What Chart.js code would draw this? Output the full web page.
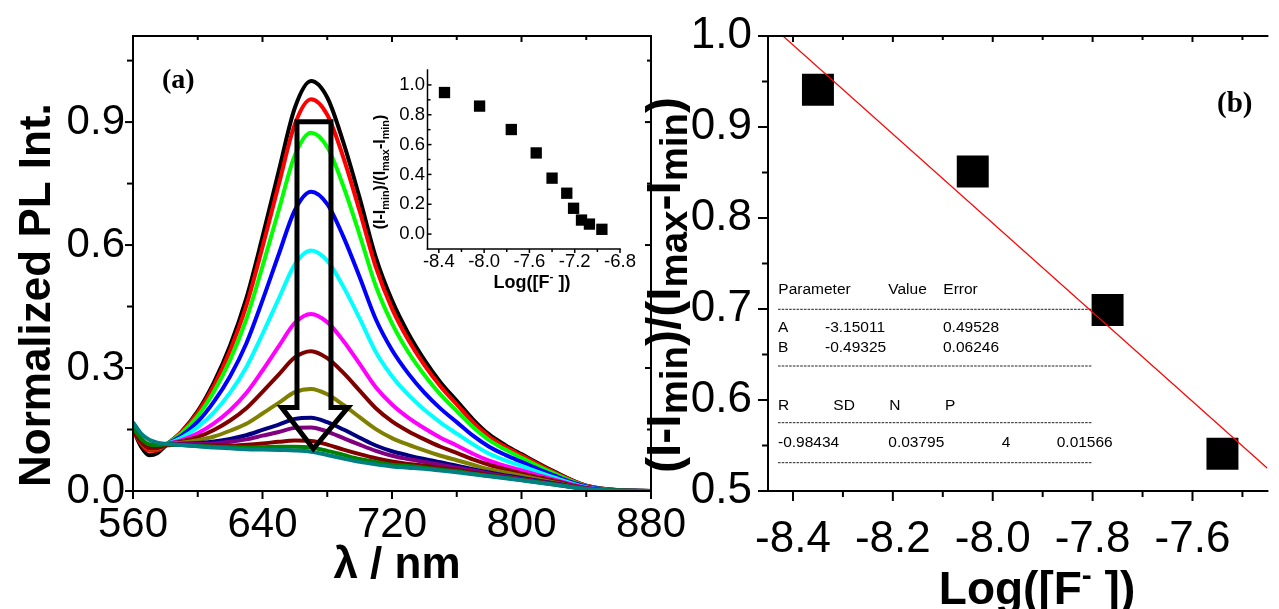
<!DOCTYPE html>
<html>
<head>
<meta charset="utf-8">
<script src="https://cdn.jsdelivr.net/npm/chart.js@4/dist/chart.umd.min.js"></script>
<style>
  html, body { margin: 0; padding: 0; background: #fff; overflow: hidden; width: 1279px; height: 609px; }
  canvas { position: absolute; }
</style>
</head>
<body>
<canvas id="pl" width="700" height="609" style="left:0;top:0"></canvas>
<canvas id="fitb" width="690" height="609" style="left:600px;top:0"></canvas>
<canvas id="inset" width="290" height="250" style="left:360px;top:50px"></canvas>
<script>
const SANS = '"Liberation Sans", Arial, sans-serif';
const SERIF = '"Liberation Serif", "Times New Roman", serif';

// panel (a): normalized PL spectra, one array per titration step
const wavelength = [560, 565, 570, 575, 580, 590, 600, 610, 620, 630, 640, 650, 660, 670, 680, 690, 700, 710, 720, 730, 740, 750, 760, 770, 780, 790, 800, 820, 840, 860, 880];
const plBlack   = [0.150, 0.108, 0.087, 0.092, 0.110, 0.145, 0.195, 0.265, 0.355, 0.470, 0.620, 0.780, 0.935, 1.000, 0.960, 0.850, 0.715, 0.570, 0.465, 0.385, 0.320, 0.265, 0.220, 0.175, 0.138, 0.112, 0.090, 0.048, 0.013, 0.002, 0.000];
const plRed     = [0.148, 0.115, 0.098, 0.099, 0.112, 0.144, 0.191, 0.257, 0.343, 0.452, 0.595, 0.747, 0.895, 0.956, 0.918, 0.813, 0.683, 0.546, 0.445, 0.369, 0.307, 0.255, 0.211, 0.168, 0.133, 0.108, 0.087, 0.046, 0.013, 0.002, 0.000];
const plLime    = [0.150, 0.120, 0.104, 0.104, 0.113, 0.141, 0.183, 0.243, 0.320, 0.419, 0.548, 0.685, 0.819, 0.874, 0.839, 0.743, 0.625, 0.500, 0.409, 0.339, 0.283, 0.235, 0.195, 0.156, 0.124, 0.101, 0.081, 0.043, 0.012, 0.002, 0.000];
const plBlue    = [0.151, 0.122, 0.107, 0.106, 0.113, 0.135, 0.169, 0.218, 0.280, 0.360, 0.465, 0.577, 0.685, 0.730, 0.700, 0.620, 0.522, 0.419, 0.344, 0.287, 0.240, 0.201, 0.168, 0.135, 0.108, 0.088, 0.071, 0.038, 0.011, 0.002, 0.000];
const plCyan    = [0.152, 0.124, 0.110, 0.108, 0.114, 0.130, 0.156, 0.192, 0.240, 0.302, 0.383, 0.469, 0.553, 0.587, 0.562, 0.498, 0.421, 0.339, 0.280, 0.235, 0.198, 0.167, 0.140, 0.114, 0.091, 0.075, 0.061, 0.033, 0.009, 0.001, 0.000];
const plMagenta = [0.152, 0.125, 0.110, 0.109, 0.114, 0.124, 0.141, 0.165, 0.197, 0.239, 0.294, 0.353, 0.410, 0.432, 0.412, 0.366, 0.310, 0.253, 0.211, 0.179, 0.153, 0.130, 0.111, 0.091, 0.074, 0.061, 0.050, 0.028, 0.008, 0.001, 0.000];
const plWine    = [0.152, 0.125, 0.111, 0.109, 0.114, 0.121, 0.132, 0.149, 0.172, 0.202, 0.242, 0.284, 0.326, 0.341, 0.324, 0.288, 0.245, 0.202, 0.170, 0.146, 0.126, 0.108, 0.093, 0.077, 0.064, 0.053, 0.043, 0.025, 0.007, 0.001, 0.000];
const plOlive   = [0.153, 0.126, 0.111, 0.110, 0.114, 0.118, 0.124, 0.133, 0.147, 0.164, 0.189, 0.215, 0.241, 0.249, 0.236, 0.210, 0.180, 0.151, 0.129, 0.113, 0.099, 0.086, 0.075, 0.064, 0.053, 0.045, 0.037, 0.021, 0.006, 0.001, 0.000];
const plNavy    = [0.153, 0.126, 0.111, 0.110, 0.114, 0.115, 0.117, 0.121, 0.127, 0.136, 0.149, 0.162, 0.176, 0.179, 0.168, 0.150, 0.130, 0.111, 0.097, 0.087, 0.078, 0.070, 0.062, 0.053, 0.045, 0.038, 0.032, 0.019, 0.006, 0.001, 0.000];
const plPurple  = [0.150, 0.122, 0.106, 0.106, 0.112, 0.114, 0.115, 0.116, 0.120, 0.126, 0.135, 0.144, 0.154, 0.155, 0.145, 0.129, 0.113, 0.098, 0.086, 0.078, 0.071, 0.064, 0.057, 0.050, 0.043, 0.036, 0.030, 0.018, 0.006, 0.001, 0.000];
const plWine2   = [0.150, 0.120, 0.105, 0.105, 0.111, 0.113, 0.111, 0.111, 0.111, 0.113, 0.116, 0.120, 0.123, 0.122, 0.113, 0.101, 0.090, 0.080, 0.072, 0.066, 0.062, 0.056, 0.051, 0.045, 0.039, 0.033, 0.028, 0.017, 0.005, 0.001, 0.000];
const plGreen   = [0.155, 0.128, 0.114, 0.112, 0.114, 0.112, 0.110, 0.108, 0.107, 0.106, 0.107, 0.108, 0.108, 0.106, 0.098, 0.088, 0.078, 0.071, 0.064, 0.061, 0.057, 0.052, 0.048, 0.042, 0.037, 0.032, 0.027, 0.016, 0.005, 0.001, 0.000];
const plTeal    = [0.168, 0.140, 0.125, 0.118, 0.115, 0.112, 0.109, 0.106, 0.104, 0.102, 0.101, 0.100, 0.099, 0.096, 0.088, 0.079, 0.071, 0.065, 0.060, 0.057, 0.054, 0.050, 0.046, 0.041, 0.036, 0.031, 0.026, 0.016, 0.005, 0.001, 0.000];
const plSeries = [plBlack, plRed, plLime, plBlue, plCyan, plMagenta, plWine, plOlive, plNavy, plPurple, plWine2, plGreen, plTeal];
const plColors = ['#000000', '#ff0000', '#00ff00', '#0000ff', '#00ffff', '#ff00ff', '#800000', '#808000', '#000080', '#800080', '#800000', '#008000', '#008080'];
const plTicksX = [560, 640, 720, 800, 880];
const plTicksY = [0.0, 0.3, 0.6, 0.9];

// inset: full titration
const insetLogF  = [-8.35, -8.04, -7.76, -7.54, -7.40, -7.27, -7.21, -7.14, -7.07, -6.96];
const insetRatio = [0.949, 0.858, 0.701, 0.544, 0.375, 0.274, 0.173, 0.094, 0.067, 0.032];
const insetTicksX = [-8.4, -8.0, -7.6, -7.2, -6.8];
const insetTicksY = [0.0, 0.2, 0.4, 0.6, 0.8, 1.0];

// panel (b): linear range and fit
const fitLogF  = [-8.35, -8.04, -7.77, -7.54];
const fitRatio = [0.941, 0.851, 0.699, 0.541];
const fitLineX = [-8.42, -7.45];
const fitLineY = [1.0, 0.525];
const fitTicksX = [-8.4, -8.2, -8.0, -7.8, -7.6];
const fitTicksY = [0.5, 0.6, 0.7, 0.8, 0.9, 1.0];
const tableHead = ['Parameter', 'Value', 'Error'];
const tableA = ['A', '-3.15011', '0.49528'];
const tableB = ['B', '-0.49325', '0.06246'];
const tableStatHead = ['R', 'SD', 'N', 'P'];
const tableStat = ['-0.98434', '0.03795', '4', '0.01566'];

const yTitleRuns = [['(I-I'], ['min', 'sub'], [')/(I'], ['max', 'sub'], ['-I'], ['min', 'sub'], [')']];
const xTitleRuns = [['Log([F'], ['-', 'sup'], [' ])']];

// text with sub/superscripts, optionally rotated
function drawRuns(ctx, runs, x, y, size, opt = {}) {
  const weight = opt.bold ? 'bold ' : '';
  const fam = opt.family || SANS;
  const subK = opt.sub || 0.68, subDy = opt.subDy || 0.28;
  const parts = runs.map(([t, k]) => {
    const s = k ? size * (k === 'sup' ? 0.65 : subK) : size;
    const dy = k === 'sub' ? size * subDy : k === 'sup' ? -size * 0.42 : 0;
    ctx.font = weight + s + 'px ' + fam;
    return { t, f: ctx.font, dy, w: ctx.measureText(t).width };
  });
  const total = parts.reduce((s, p) => s + p.w, 0);
  ctx.save();
  ctx.translate(x, y);
  if (opt.rot) ctx.rotate(opt.rot);
  ctx.fillStyle = '#000';
  ctx.textAlign = 'left';
  ctx.textBaseline = 'alphabetic';
  let cx = opt.align === 'left' ? 0 : -total / 2;
  parts.forEach(p => { ctx.font = p.f; ctx.fillText(p.t, cx, p.dy); cx += p.w; });
  ctx.restore();
}

function minorsOf(vals, lo, hi) {
  const step = vals[1] - vals[0];
  const out = [];
  [vals[0] - step, ...vals].forEach(v => {
    const m = v + step / 2;
    if (m > lo + 1e-9 && m < hi - 1e-9) out.push(m);
  });
  return out;
}

// axes box, tick marks, arrow, titles and notes
const frame = {
  id: 'frame',
  afterDatasetsDraw(chart, args, o) {
    if (!o.arrow) return;
    const { ctx, scales: { x, y } } = chart;
    ctx.save();
    ctx.strokeStyle = '#000';
    ctx.lineWidth = 5;
    ctx.lineJoin = 'miter';
    ctx.beginPath();
    o.arrow.forEach(([a, b], i) => {
      const px = x.getPixelForValue(a), py = y.getPixelForValue(b);
      i ? ctx.lineTo(px, py) : ctx.moveTo(px, py);
    });
    ctx.closePath();
    ctx.stroke();
    ctx.restore();
  },
  afterDraw(chart, args, o) {
    const { ctx, chartArea: a, scales: { x, y } } = chart;
    ctx.save();
    ctx.strokeStyle = '#000';
    ctx.lineWidth = o.lw;
    ctx.lineCap = 'square';
    const edge = { left: [a.left, a.top, a.left, a.bottom], bottom: [a.left, a.bottom, a.right, a.bottom],
                   top: [a.left, a.top, a.right, a.top], right: [a.right, a.top, a.right, a.bottom] };
    o.sides.forEach(s => {
      const e = edge[s];
      ctx.beginPath(); ctx.moveTo(e[0], e[1]); ctx.lineTo(e[2], e[3]); ctx.stroke();
    });
    ctx.lineCap = 'butt';
    Object.entries(o.ticks).forEach(([side, spec]) => {
      const scale = (side === 'bottom' || side === 'top') ? x : y;
      const maj = scale.ticks.map(t => t.value);
      [[maj, spec.len[0]], [minorsOf(maj, scale.min, scale.max), spec.len[1]]].forEach(([vals, len]) => {
        vals.forEach(v => {
          const p = scale.getPixelForValue(v);
          ctx.beginPath();
          if (side === 'bottom') { ctx.moveTo(p, a.bottom); ctx.lineTo(p, a.bottom + spec.d * len); }
          if (side === 'top') { ctx.moveTo(p, a.top); ctx.lineTo(p, a.top + spec.d * len); }
          if (side === 'left') { ctx.moveTo(a.left, p); ctx.lineTo(a.left + spec.d * len, p); }
          if (side === 'right') { ctx.moveTo(a.right, p); ctx.lineTo(a.right + spec.d * len, p); }
          ctx.stroke();
        });
      });
    });
    (o.titles || []).forEach(t => drawRuns(ctx, t.runs, t.x, t.y, t.size,
      { bold: t.bold !== false, rot: t.rot, align: t.align, family: t.family, sub: t.sub, subDy: t.subDy }));
    if (o.table) {
      const tb = o.table;
      ctx.font = 'normal ' + tb.size + 'px ' + SANS;
      ctx.fillStyle = '#000';
      ctx.textAlign = 'left';
      ctx.textBaseline = 'alphabetic';
      tb.rows.forEach(r => r.cells.forEach((c, i) => ctx.fillText(c, r.xs[i], r.y)));
      ctx.strokeStyle = '#222';
      ctx.lineWidth = 1;
      ctx.setLineDash([2.6, 1.1]);
      tb.rules.forEach(ry => { ctx.beginPath(); ctx.moveTo(tb.x0, ry); ctx.lineTo(tb.x1, ry); ctx.stroke(); });
    }
    ctx.restore();
  }
};

function axis(ticks, fmt, size, pad, extra) {
  return Object.assign({
    type: 'linear',
    grid: { display: false, drawTicks: false },
    border: { display: false },
    afterBuildTicks: s => { s.ticks = ticks.map(v => ({ value: v })); },
    ticks: { autoSkip: false, maxRotation: 0, minRotation: 0, padding: pad, color: '#000',
             font: { family: SANS, size, lineHeight: 1.2 }, callback: fmt }
  }, extra);
}
const xFit = h => s => { s.height = h; s.paddingLeft = 0; s.paddingRight = 0; };
const yFit = w => s => { s.width = w; s.paddingTop = 0; s.paddingBottom = 0; };
const one = v => v.toFixed(1);

Chart.defaults.font.family = SANS;
Chart.defaults.color = '#000';

// panel (a)
new Chart(document.getElementById('pl'), {
  type: 'line',
  data: {
    datasets: plSeries.map((s, i) => ({
      data: wavelength.map((w, j) => ({ x: w, y: s[j] })),
      borderColor: plColors[i], borderWidth: 4, pointRadius: 0,
      cubicInterpolationMode: 'monotone', fill: false, order: plSeries.length - i
    }))
  },
  options: {
    responsive: false, animation: false, devicePixelRatio: 1, events: [],
    layout: { padding: { left: 0, top: 36, right: 49, bottom: 0 } },
    plugins: {
      legend: { display: false }, tooltip: { enabled: false },
      frame: {
        lw: 2, sides: ['left', 'bottom', 'top', 'right'],
        ticks: { bottom: { d: 1, len: [8, 6] }, left: { d: -1, len: [8, 6] },
                 top: { d: 1, len: [6, 4] }, right: { d: -1, len: [6, 4] } },
        arrow: [[661.3, 0.901], [682.3, 0.901], [682.3, 0.204], [692.8, 0.204], [671.4, 0.103], [651.8, 0.204], [661.3, 0.204]],
        titles: [
          { runs: [['Normalized PL Int.']], x: 50, y: 487, size: 44, rot: -Math.PI / 2, align: 'left' },
          { runs: [['\u03bb / nm']], x: 397, y: 578, size: 44 },
          { runs: [['(a)']], x: 162, y: 88, size: 28, align: 'left', family: SERIF }
        ]
      }
    },
    scales: {
      x: axis(plTicksX, v => String(v), 42, 9, { min: 560, max: 880, afterFit: xFit(118) }),
      y: axis(plTicksY, one, 42, 8, { min: 0, max: 1.11, afterFit: yFit(133) })
    }
  },
  plugins: [frame]
});

// inset
new Chart(document.getElementById('inset'), {
  type: 'scatter',
  data: {
    datasets: [{
      data: insetLogF.map((v, i) => ({ x: v, y: insetRatio[i] })),
      pointStyle: 'rect', pointRadius: 8, backgroundColor: '#000', borderWidth: 0, clip: false
    }]
  },
  options: {
    responsive: false, animation: false, devicePixelRatio: 1, events: [],
    layout: { padding: { left: 0, top: 20, right: 30, bottom: 0 } },
    plugins: {
      legend: { display: false }, tooltip: { enabled: false },
      frame: {
        lw: 1.5, sides: ['left', 'bottom'],
        ticks: { bottom: { d: 1, len: [4, 3] }, left: { d: 1, len: [4, 3] } },
        titles: [
          { runs: yTitleRuns, x: 25, y: 122, size: 16, rot: -Math.PI / 2 },
          { runs: xTitleRuns, x: 172, y: 238, size: 18 }
        ]
      }
    },
    scales: {
      x: axis(insetTicksX, one, 18.5, 2, { min: -8.5, max: -6.8, afterFit: xFit(51) }),
      y: axis(insetTicksY, one, 18.5, 2.5, { min: -0.1, max: 1.1, afterFit: yFit(67.5) })
    }
  },
  plugins: [frame]
});

// panel (b)
const tx = [178, 225, 288.3, 343, 401.7, 456.7];
new Chart(document.getElementById('fitb'), {
  type: 'scatter',
  data: {
    datasets: [
      { data: fitLogF.map((v, i) => ({ x: v, y: fitRatio[i] })),
        pointStyle: 'rect', pointRadius: 22.6, backgroundColor: '#000', borderWidth: 0, clip: false, order: 1 },
      { data: fitLineX.map((v, i) => ({ x: v, y: fitLineY[i] })),
        showLine: true, borderColor: '#ff0000', borderWidth: 1.2, pointRadius: 0, order: 0 }
    ]
  },
  options: {
    responsive: false, animation: false, devicePixelRatio: 1, events: [],
    layout: { padding: { left: 0, top: 36, right: 5, bottom: 0 } },
    plugins: {
      legend: { display: false }, tooltip: { enabled: false },
      frame: {
        lw: 2, sides: ['left', 'bottom', 'top'],
        ticks: { bottom: { d: 1, len: [10, 6] }, left: { d: -1, len: [10, 6] }, top: { d: 1, len: [6, 4] } },
        titles: [
          { runs: yTitleRuns, x: 80, y: 285, size: 48, rot: -Math.PI / 2, sub: 0.8, subDy: 0.14 },
          { runs: xTitleRuns, x: 437, y: 604, size: 46 },
          { runs: [['(b)']], x: 617, y: 112, size: 29, align: 'left', family: SERIF }
        ],
        table: {
          size: 15.5, x0: 178, x1: 491.7,
          rules: [309.3, 366, 422.7, 462.7],
          rows: [
            { y: 294, cells: tableHead, xs: [178.3, 288.3, 343.3] },
            { y: 331.7, cells: tableA, xs: [tx[0], tx[1], tx[3]] },
            { y: 351.7, cells: tableB, xs: [tx[0], tx[1], tx[3]] },
            { y: 410, cells: tableStatHead, xs: [178, 233.3, 289.3, 345] },
            { y: 447.3, cells: tableStat, xs: [tx[0], tx[2], tx[4], tx[5]] }
          ]
        }
      }
    },
    scales: {
      x: axis(fitTicksX, one, 44, 22, { min: -8.45, max: -7.45, afterFit: xFit(118) }),
      y: axis(fitTicksY, one, 44, 16, { min: 0.5, max: 1.0, afterFit: yFit(168) })
    }
  },
  plugins: [frame]
});
</script>
</body>
</html>
